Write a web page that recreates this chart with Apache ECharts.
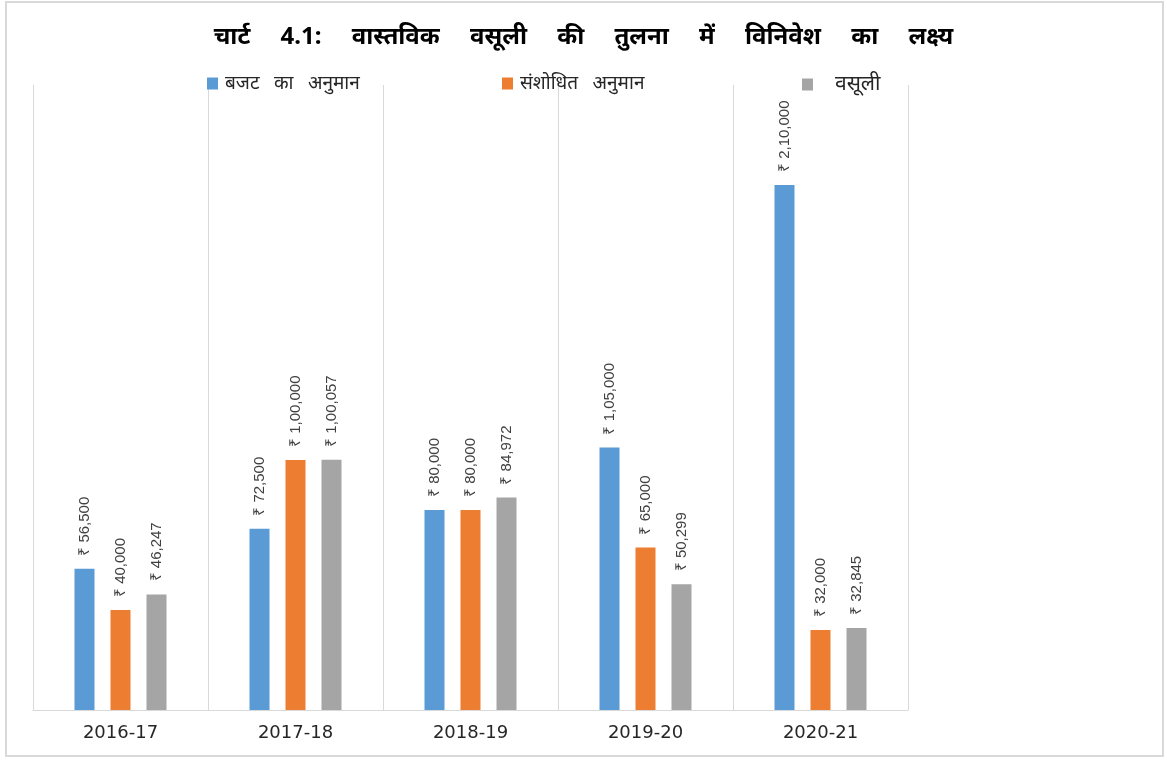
<!DOCTYPE html>
<html>
<head>
<meta charset="utf-8">
<script src="https://cdn.jsdelivr.net/npm/echarts@6/dist/echarts.min.js"></script>
<style>
html,body{margin:0;padding:0;background:#fff;}
#wrap{position:absolute;left:5px;top:1px;width:1159px;height:756px;border:2px solid #d9d9d9;box-sizing:border-box;}
#chart{position:absolute;left:0;top:0;width:1167px;height:760px;}
</style>
</head>
<body>
<div id="wrap"></div>
<div id="chart"></div>
<script>
const categories = ['2016-17', '2017-18', '2018-19', '2019-20', '2020-21'];
const seriesNames = ['बजट का अनुमान', 'संशोधित अनुमान', 'वसूली'];
const budgetEstimate = [56500, 72500, 80000, 105000, 210000];
const revisedEstimate = [40000, 100000, 80000, 65000, 32000];
const actualRealised = [46247, 100057, 84972, 50299, 32845];
const colors = ['#5b9bd5', '#ed7d31', '#a5a5a5'];
const titleText = 'चार्ट 4.1: वास्तविक वसूली की तुलना में विनिवेश का लक्ष्य';

function indianFormat(n) {
  const s = String(Math.round(n));
  if (s.length <= 3) return s;
  const last3 = s.slice(-3);
  let rest = s.slice(0, -3);
  const parts = [];
  while (rest.length > 2) { parts.unshift(rest.slice(-2)); rest = rest.slice(0, -2); }
  if (rest.length) parts.unshift(rest);
  return parts.join(',') + ',' + last3;
}
// wider word spacing to mimic the letter-spaced original typography
function spaced(t, sp) { return t.split(' ').join(sp); }

const chart = echarts.init(document.getElementById('chart'), null, {renderer: 'canvas'});
const dataSets = [budgetEstimate, revisedEstimate, actualRealised];
const legendLeft = [202, 497, 797];
const legendFont = [19, 19, 21];
const legendGap = [7, 7, 22];

const option = {
  backgroundColor: 'transparent',
  animation: false,
  title: {
    text: spaced(titleText, ' \u2003'),
    left: 'center',
    top: 20,
    textStyle: {fontSize: 24, fontWeight: 'bold', color: '#000', fontFamily: 'Noto Sans, DejaVu Sans, sans-serif'}
  },
  legend: seriesNames.map((name, i) => ({
    data: [name],
    left: legendLeft[i],
    top: 69,
    icon: 'rect',
    itemWidth: 11,
    itemHeight: 12,
    itemGap: 0,
    formatter: n => spaced(n, ' \u2002'),
    textStyle: {fontSize: legendFont[i], color: '#262626', padding: [0, 0, 0, legendGap[i] - 5], fontFamily: 'Noto Sans, DejaVu Sans, sans-serif'}
  })),
  grid: {left: 33, right: 259, top: 85, bottom: 50, containLabel: false},
  xAxis: {
    type: 'category',
    data: categories,
    boundaryGap: true,
    axisLine: {show: true, lineStyle: {color: '#d9d9d9', width: 1}},
    axisTick: {show: false},
    splitLine: {show: true, lineStyle: {color: '#d9d9d9', width: 1}},
    axisLabel: {color: '#262626', fontSize: 18, margin: 14, fontFamily: 'DejaVu Sans, sans-serif'}
  },
  yAxis: {
    type: 'value',
    min: 0,
    max: 250000,
    show: false,
    splitLine: {show: false}
  },
  series: seriesNames.map((name, i) => ({
    name: name,
    type: 'bar',
    data: dataSets[i],
    barWidth: 20,
    barGap: '80%',
    itemStyle: {color: colors[i]},
    label: {
      show: true,
      position: 'top',
      rotate: 90,
      align: 'left',
      verticalAlign: 'middle',
      distance: 13,
      color: '#404040',
      fontSize: 15,
      fontFamily: 'Liberation Sans, Arial, sans-serif',
      formatter: p => '₹ ' + indianFormat(p.value)
    }
  }))
};
chart.setOption(option);
</script>
</body>
</html>
